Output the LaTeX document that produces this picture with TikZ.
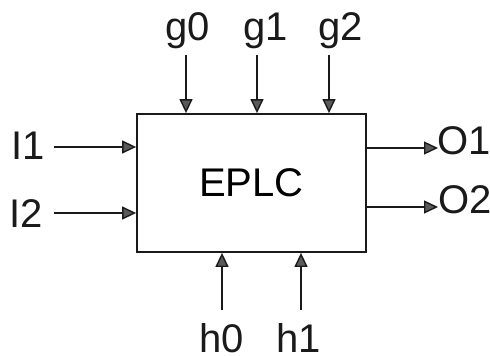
\documentclass[tikz,border=0pt]{standalone}
\usepackage{fontspec}
\setmainfont{Liberation Sans}
\usetikzlibrary{arrows.meta, positioning}
\definecolor{color_line}{HTML}{1A1A1A}
\definecolor{color_head}{HTML}{5A5A5A}
\tikzset{
  block_box/.style={draw=color_line, line width=1.8pt, minimum width=229pt, minimum height=138pt, inner sep=0pt, font=\fontsize{40}{40}\selectfont},
  pin_label/.style={inner sep=0pt, anchor=base, font=\fontsize{40}{40}\selectfont, text=color_line},
  pin_arrow/.style={-{Triangle[length=14pt, width=13pt, fill=color_head]}, draw=color_line, line width=1.4pt},
}

\begin{document}
\begin{tikzpicture}[x=1pt, y=-1pt]
    \useasboundingbox (0,0) rectangle (490,356);
    \node[block_box] (eplc) at (251.5,183) {EPLC};

    % top inputs
    \foreach \name/\x/\lx in {g0/186/187.6, g1/257/265.6, g2/329/340.6} {
      \node[pin_label] (\name) at (\lx,40) {\name};
      \coordinate (\name_start) at (\x,55);
      \draw[pin_arrow] (\name_start) -- (\name_start |- eplc.north);
    }

    % bottom inputs
    \foreach \name/\x/\lx in {h0/222/222, h1/301/299} {
      \node[pin_label] (\name) at (\lx,352) {\name};
      \coordinate (\name_start) at (\x,310);
      \draw[pin_arrow] (\name_start) -- (\name_start |- eplc.south);
    }

    % left inputs
    \foreach \name/\y/\lx/\ly in {I1/147/27.7/159, I2/213/25.9/227} {
      \node[pin_label] (\name) at (\lx,\ly) {\name};
      \coordinate (\name_start) at (54,\y);
      \draw[pin_arrow] (\name_start) -- (\name_start -| eplc.west);
    }

    % outputs
    \foreach \name/\y/\lx/\ly in {O1/148/464.5/154, O2/207/465.5/213} {
      \node[pin_label] (\name) at (\lx,\ly) {\name};
      \coordinate (\name_end) at (438,\y);
      \draw[pin_arrow] (\name_end -| eplc.east) -- (\name_end);
    }
  \end{tikzpicture}
\end{document}
